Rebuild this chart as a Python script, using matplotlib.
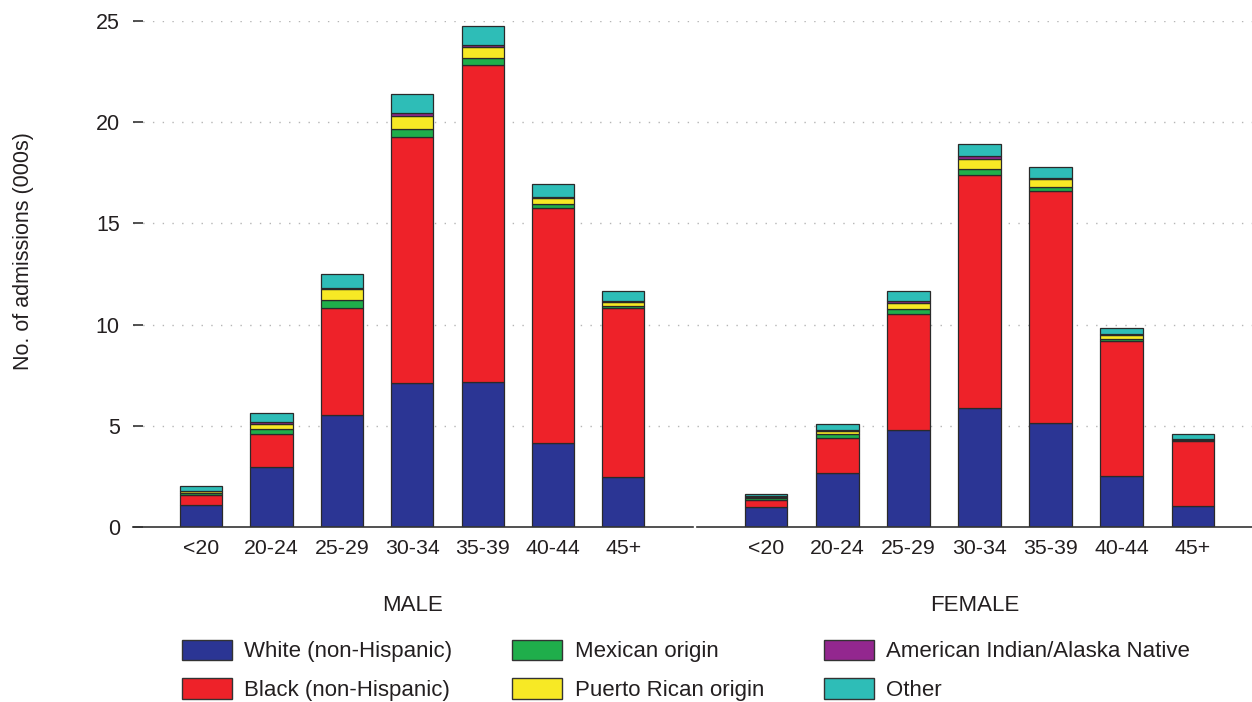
import numpy as np
import matplotlib.pyplot as plt
from matplotlib.patches import Patch

plt.rcParams['font.family'] = ['Liberation Sans', 'DejaVu Sans']

# age groups
ages = ['<20', '20-24', '25-29', '30-34', '35-39', '40-44', '45+']

# admissions (000s), male
male_white = [1.10, 2.95, 5.54, 7.09, 7.17, 4.14, 2.45]
male_black = [0.47, 1.63, 5.29, 12.16, 15.66, 11.60, 8.35]
male_mexican = [0.13, 0.28, 0.40, 0.43, 0.36, 0.22, 0.12]
male_pr = [0.07, 0.25, 0.51, 0.63, 0.54, 0.28, 0.20]
male_aian = [0.03, 0.07, 0.07, 0.12, 0.10, 0.06, 0.06]
male_other = [0.23, 0.44, 0.69, 0.97, 0.94, 0.65, 0.47]

# admissions (000s), female
female_white = [1.01, 2.69, 4.78, 5.88, 5.14, 2.50, 1.04]
female_black = [0.30, 1.72, 5.73, 11.52, 11.46, 6.69, 3.19]
female_mexican = [0.11, 0.19, 0.27, 0.29, 0.18, 0.10, 0.05]
female_pr = [0.07, 0.14, 0.29, 0.48, 0.39, 0.18, 0.07]
female_aian = [0.03, 0.05, 0.10, 0.18, 0.09, 0.05, 0.02]
female_other = [0.13, 0.32, 0.50, 0.58, 0.53, 0.31, 0.22]

groups = ['White (non-Hispanic)', 'Black (non-Hispanic)', 'Mexican origin',
          'Puerto Rican origin', 'American Indian/Alaska Native', 'Other']
colors = ['#2B3594', '#EE2229', '#1FAE4B', '#F7E925', '#93278F', '#2EBDB7']

male = [male_white, male_black, male_mexican, male_pr, male_aian, male_other]
female = [female_white, female_black, female_mexican, female_pr, female_aian, female_other]

txt = '#231F20'
fig = plt.figure(figsize=(12.52, 7.02), dpi=100)
ax1 = fig.add_axes([0.1062, 0.2493, 0.4473, 0.7208])
ax2 = fig.add_axes([0.5567, 0.2493, 0.4433, 0.7208])

x = np.arange(len(ages))


def draw(ax, data, title, xlim):
    bottom = np.zeros(len(ages))
    for vals, c in zip(data, colors):
        ax.bar(x, vals, 0.6, bottom=bottom, color=c, edgecolor='#2a2a2a',
               linewidth=0.9, zorder=3)
        bottom += np.array(vals)
    ax.set_xlim(*xlim)
    ax.set_ylim(0, 25)
    ax.set_yticks([0, 5, 10, 15, 20, 25])
    ax.set_xticks(x)
    ax.set_xticklabels(ages, fontsize=15.3, color=txt)
    ax.tick_params(axis='x', length=0, pad=9)
    for s in ['top', 'right', 'left']:
        ax.spines[s].set_visible(False)
    ax.spines['bottom'].set_color('#333333')
    ax.spines['bottom'].set_linewidth(1.2)
    ax.spines['bottom'].set_zorder(4)
    for v in [5, 10, 15, 20, 25]:
        ax.axhline(v, color='#b5b5b5', linestyle=(0, (1, 6)), linewidth=1, zorder=1)
    ax.set_xlabel(title, fontsize=16, color=txt, labelpad=26)


draw(ax1, male, 'MALE', (-0.97, 6.99))
draw(ax2, female, 'FEMALE', (-0.97, 6.83))

ax1.tick_params(axis='y', direction='in', length=7, width=1.2, color='#333333',
                labelsize=15.5, labelcolor=txt, pad=9.5)
ax2.tick_params(axis='y', left=False, labelleft=False)

fig.text(0.0185, 0.642, 'No. of admissions (000s)', rotation=90, ha='center',
         va='center', fontsize=15.5, color=txt)

handles = [Patch(facecolor=c, edgecolor='#333333', linewidth=1) for c in colors]
fig.legend(handles, groups, ncol=3, loc='center', bbox_to_anchor=(0.548, 0.045),
           frameon=False, fontsize=16, handlelength=2.25, handleheight=1.05,
           handletextpad=0.55, columnspacing=2.7, labelspacing=0.72,
           labelcolor=txt)

plt.savefig('out.png', dpi=100)
